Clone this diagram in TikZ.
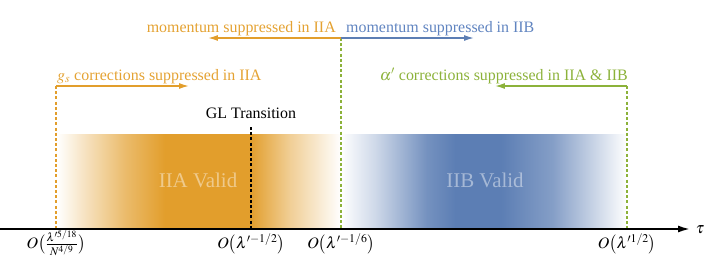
\documentclass[tikz,border=0pt]{standalone}
\usepackage{amsmath}
\usepackage{mathptmx}
\usepackage{fontspec}
\setmainfont{Liberation Serif}
\usetikzlibrary{arrows.meta}
\definecolor{orA}{RGB}{226,158,44}
\definecolor{orT}{RGB}{228,162,50}
\definecolor{blB}{RGB}{92,126,180}
\definecolor{blT}{RGB}{96,132,192}
\definecolor{grC}{RGB}{140,178,58}
\pgfdeclarehorizontalshading{iiashade}{100bp}{color(0bp)=(white); color(25bp)=(white); color(30bp)=(orA!30); color(37bp)=(orA!70); color(44bp)=(orA); color(59bp)=(orA); color(66bp)=(orA!50); color(75bp)=(white); color(100bp)=(white)}
\pgfdeclarehorizontalshading{iibshade}{100bp}{color(0bp)=(white); color(25bp)=(white); color(31bp)=(blB!30); color(40bp)=(blB!85); color(45bp)=(blB); color(53bp)=(blB); color(62bp)=(blB!75); color(75bp)=(white); color(100bp)=(white)}
\tikzset{
  lbl/.style={inner sep=0pt, font=\fontsize{16}{19}\selectfont},
  bigl/.style={inner sep=0pt, font=\fontsize{21}{25}\selectfont, text=white, text opacity=0.45},
  vdash/.style={line width=2bp, dash pattern=on 3bp off 2.2bp},
  harrow/.style={line width=1.4pt, -{Latex[length=10pt,width=6pt]}},
}
\begin{document}
\begin{tikzpicture}[x=1bp,y=-1bp]
\useasboundingbox (0,0) rectangle (706,258);
% key coordinates
\coordinate (a0) at (56,229);
\coordinate (a1) at (251,229);
\coordinate (a2) at (341,229);
\coordinate (a3) at (627,229);
\coordinate (ax0) at (0,229);
\coordinate (ax1) at (690,229);
\coordinate (mtop) at (341,38);
\coordinate (mL) at (208,38);
\coordinate (mR) at (474,38);
\coordinate (gtop) at (56,86);
\coordinate (gR) at (189,86);
\coordinate (atop) at (627,86);
\coordinate (aL) at (495,86);
\coordinate (gltop) at (251,127);
% shaded regions
\shade[shading=iiashade] (57,134) rectangle (341,229);
\shade[shading=iibshade] (341,134) rectangle (627,229);
\node[bigl, anchor=base] (iia) at (198,187) {IIA Valid};
\node[bigl, anchor=base] (iib) at (485,187) {IIB Valid};
% dashed verticals
\draw[vdash, orA] (gtop) -- (a0);
\draw[vdash, grC] (mtop) -- (a2);
\draw[vdash, grC] (atop) -- (a3);
\draw[vdash, black] (gltop) -- (a1);
% arrows
\draw[harrow, orA] (mtop) -- (mL);
\draw[harrow, blB] (mtop) -- (mR);
\draw[harrow, orA] (gtop) -- (gR);
\draw[harrow, grC] (atop) -- (aL);
% axis
\draw[line width=1.8pt, -{Latex[length=12pt,width=7pt]}] (ax0) -- (ax1);
\node[lbl, anchor=base] (tau) at (700,233) {$\tau$};
% labels
\node[lbl, text=orT, anchor=base east] (m1) at (336,32) {momentum suppressed in IIA};
\node[lbl, text=blT, anchor=base west] (m2) at (346,32) {momentum suppressed in IIB};
\node[lbl, text=orT, anchor=base west] (g1) at (57,80) {$g_s$ corrections suppressed in IIA};
\node[lbl, text=grC, anchor=base east] (al1) at (628,80) {$\alpha'$ corrections suppressed in IIA \& IIB};
\node[lbl, anchor=base] (gl) at (251,118) {GL Transition};
% axis labels
\node[lbl, anchor=base] (l0) at (56,248) {$O\bigl(\tfrac{\lambda'^{5/18}}{N^{4/9}}\bigr)$};
\node[lbl, anchor=base] (l1) at (251,248) {$O\bigl(\lambda'^{-1/2}\bigr)$};
\node[lbl, anchor=base] (l2) at (341,248) {$O\bigl(\lambda'^{-1/6}\bigr)$};
\node[lbl, anchor=base] (l3) at (627,248) {$O\bigl(\lambda'^{1/2}\bigr)$};
\end{tikzpicture}
\end{document}
